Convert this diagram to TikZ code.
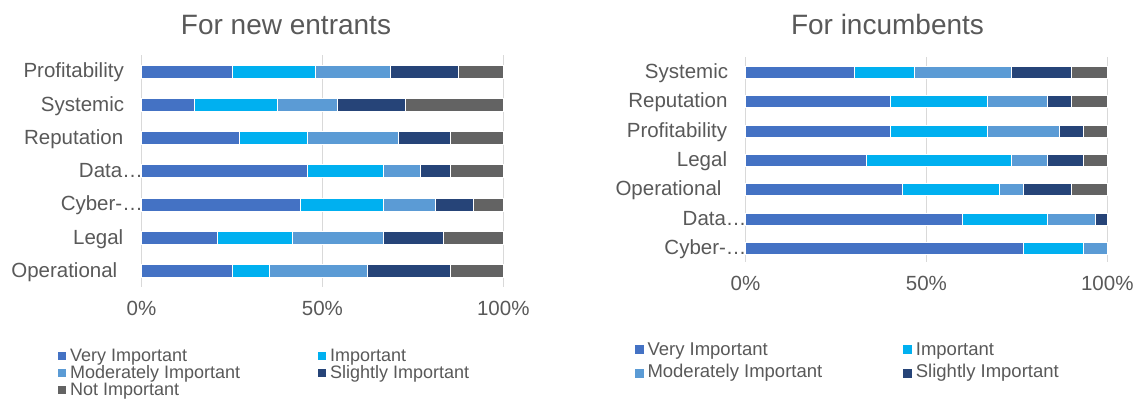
\documentclass[tikz,border=0pt]{standalone}
\usepackage{fontspec}
\setmainfont{Liberation Sans}
\definecolor{cvery}{HTML}{4472C4}
\definecolor{cimp}{HTML}{00B0F0}
\definecolor{cmod}{HTML}{5B9BD5}
\definecolor{cslight}{HTML}{264478}
\definecolor{cnot}{HTML}{636363}
\definecolor{txt}{HTML}{595959}
\definecolor{grid}{HTML}{D9D9D9}
\begin{document}
\begin{tikzpicture}[x=1pt,y=-1pt,
  lab/.style={inner sep=0pt, text=txt, font=\fontsize{20.5}{24}\selectfont},
  ttl/.style={inner sep=0pt, text=txt, font=\fontsize{28}{32}\selectfont, anchor=base},
  leg/.style={inner sep=0pt, text=txt, font=\fontsize{18.5}{20}\selectfont, anchor=base west},
  legs/.style={leg, font=\fontsize{18}{20}\selectfont},
  gridline/.style={draw=grid, line width=1.6pt},
  seg/.style={draw=white, line width=0.3pt}]
\useasboundingbox (0,0) rectangle (1136,399);
\fill[white] (0,0) rectangle (1136,399);
% titles
\node[ttl] (t1) at (286,34) {For new entrants};
\node[ttl] (t2) at (887.5,34) {For incumbents};
% ---------- left chart ----------
\foreach \gx/\gl [count=\i] in {141.5/0\%, 322.4/50\%, 503.3/100\%}{
  \draw[gridline] (\gx,55) -- (\gx,287);
  \node[lab, anchor=base] (lt\i) at (\gx,315) {\gl};
}
\foreach \yc/\a/\b/\c/\d/\t/\lx [count=\i] in {
  71.3/12/23/33/42/Profitability/124,
  104.7/7/18/26/35/Systemic/124.3,
  137.7/13/22/34/41/Reputation/123.5,
  171/22/32/37/41/Data…/143,
  204.3/21/32/39/44/Cyber-…/143,
  237.7/10/20/32/40/Legal/123.5,
  271/12/17/30/41/Operational/117.5}{
  \path[seg,fill=cvery]   (141.5,\yc-6.5) rectangle ({141.5+361.8*\a/48},\yc+6.5);
  \path[seg,fill=cimp]    ({141.5+361.8*\a/48},\yc-6.5) rectangle ({141.5+361.8*\b/48},\yc+6.5);
  \path[seg,fill=cmod]    ({141.5+361.8*\b/48},\yc-6.5) rectangle ({141.5+361.8*\c/48},\yc+6.5);
  \path[seg,fill=cslight] ({141.5+361.8*\c/48},\yc-6.5) rectangle ({141.5+361.8*\d/48},\yc+6.5);
  \path[seg,fill=cnot]    ({141.5+361.8*\d/48},\yc-6.5) rectangle (503.3,\yc+6.5);
  \node[lab, anchor=base east] (lc\i) at (\lx,\yc+6.4) {\t};
}
% left legend
\fill[cvery]   (58,352.2) rectangle (66,360.2);
\node[legs] (lg1) at (70,361.5) {Very Important};
\fill[cimp]    (318,352.2) rectangle (326,360.2);
\node[legs] (lg2) at (330,361.5) {Important};
\fill[cmod]    (58,369) rectangle (66,377);
\node[legs] (lg3) at (70,378.3) {Moderately Important};
\fill[cslight] (318,369) rectangle (326,377);
\node[legs] (lg4) at (330,378.3) {Slightly Important};
\fill[cnot]    (58,385.8) rectangle (66,393.8);
\node[legs] (lg5) at (70,395.1) {Not Important};
% ---------- right chart ----------
\foreach \gx/\gl [count=\i] in {745.5/0\%, 926.4/50\%, 1107.3/100\%}{
  \draw[gridline] (\gx,57) -- (\gx,262);
  \node[lab, anchor=base] (rt\i) at (\gx,290.7) {\gl};
}
\foreach \yc/\a/\b/\c/\d/\t/\lx [count=\i] in {
  72/9/14/22/27/Systemic/728.3,
  101.5/12/20/25/27/Reputation/727.7,
  131/12/20/26/28/Profitability/727.3,
  160/10/22/25/28/Legal/727.3,
  189.5/13/21/23/27/Operational/721.7,
  219/18/25/29/30/Data…/746.7,
  248/23/28/30/30/Cyber-…/746.7}{
  \path[seg,fill=cvery]   (745.5,\yc-6) rectangle ({745.5+361.8*\a/30},\yc+6);
  \path[seg,fill=cimp]    ({745.5+361.8*\a/30},\yc-6) rectangle ({745.5+361.8*\b/30},\yc+6);
  \ifnum\c>\b
  \path[seg,fill=cmod]    ({745.5+361.8*\b/30},\yc-6) rectangle ({745.5+361.8*\c/30},\yc+6);
  \fi
  \ifnum\d>\c
  \path[seg,fill=cslight] ({745.5+361.8*\c/30},\yc-6) rectangle ({745.5+361.8*\d/30},\yc+6);
  \fi
  \ifnum\d<30
  \path[seg,fill=cnot]    ({745.5+361.8*\d/30},\yc-6) rectangle (1107.3,\yc+6);
  \fi
  \node[lab, anchor=base east] (rc\i) at (\lx,\yc+6.3) {\t};
}
% right legend
\fill[cvery]   (635,345) rectangle (644,354);
\node[leg] (rg1) at (647.3,355.7) {Very Important};
\fill[cimp]    (903.3,345) rectangle (912.3,354);
\node[leg] (rg2) at (915.7,355.7) {Important};
\fill[cmod]    (635,369.3) rectangle (644,378.3);
\node[leg] (rg3) at (647.3,377.7) {Moderately Important};
\fill[cslight] (903.3,369.3) rectangle (912.3,378.3);
\node[leg] (rg4) at (915.7,377.7) {Slightly Important};
\end{tikzpicture}
\end{document}
